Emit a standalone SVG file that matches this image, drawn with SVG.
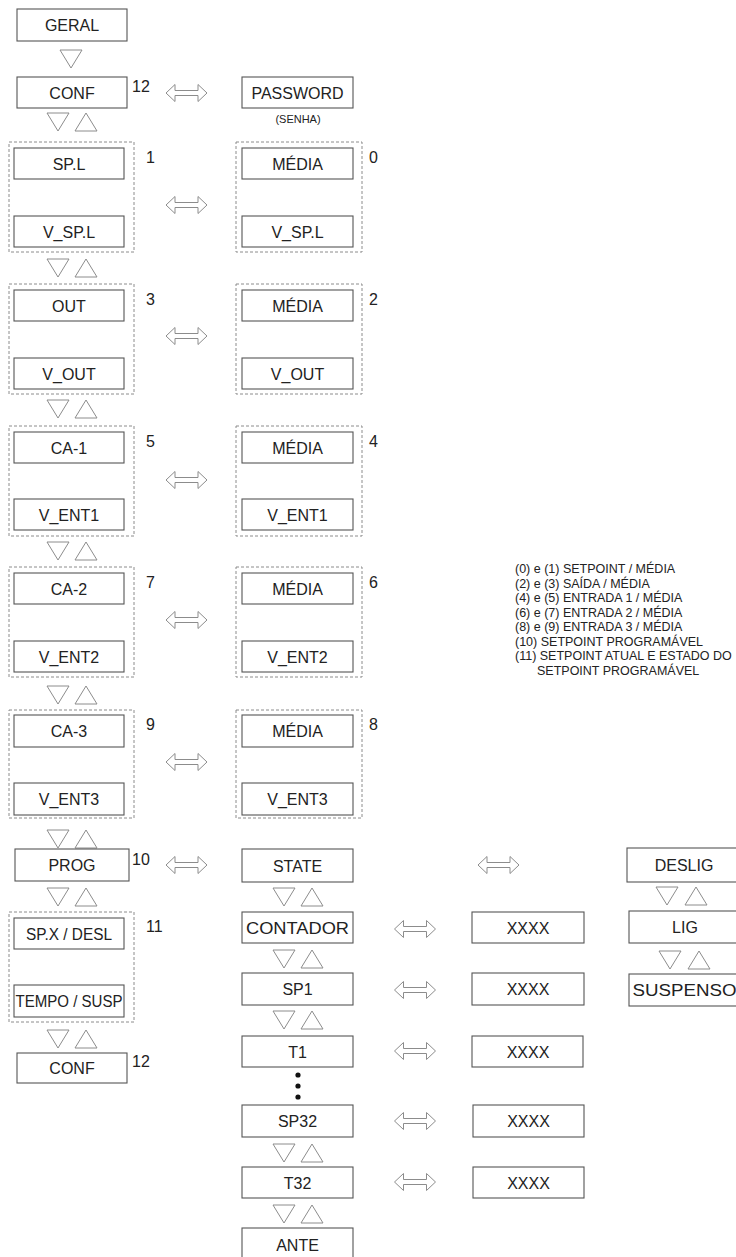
<svg xmlns="http://www.w3.org/2000/svg" xmlns:xlink="http://www.w3.org/1999/xlink" width="736" height="1257" viewBox="0 0 736 1257">
<style>
  .box { fill: #ffffff; stroke: #555555; stroke-width: 1.1; }
  .grp { fill: none; stroke: #8c8c8c; stroke-width: 1; stroke-dasharray: 3 2; }
  .tri { fill: #ffffff; stroke: #8c8c8c; stroke-width: 1; }
  .arr { fill: #ffffff; stroke: #8c8c8c; stroke-width: 1; }
  .lbl { font-family: "Liberation Sans", Arial, sans-serif; font-size: 16px; fill: #222222; text-anchor: middle; }
  .num { font-family: "Liberation Sans", Arial, sans-serif; font-size: 16px; fill: #222222; }
  .small { font-family: "Liberation Sans", Arial, sans-serif; font-size: 11px; fill: #222222; text-anchor: middle; }
  .leg { font-family: "Liberation Sans", Arial, sans-serif; font-size: 12.5px; fill: #222222; }
</style>
<defs>
  <polygon id="tdown" class="tri" points="0,0 22,0 11,18"/>
  <polygon id="tup" class="tri" points="0,18 22,18 11,0"/>
  <path id="darr" class="arr" d="M-20.5,0 L-11.5,-8.5 L-11.5,-2.5 L11.5,-2.5 L11.5,-8.5 L20.5,0 L11.5,8.5 L11.5,2.5 L-11.5,2.5 L-11.5,8.5 Z"/>
</defs>
<rect width="736" height="1257" fill="#ffffff"/>

<g id="connectors">
  <use xlink:href="#tdown" x="60" y="50"/>
  <use xlink:href="#tdown" x="47" y="113"/><use xlink:href="#tup" x="75" y="113"/>
  <use xlink:href="#tdown" x="47" y="259"/><use xlink:href="#tup" x="75" y="259"/>
  <use xlink:href="#tdown" x="47" y="400"/><use xlink:href="#tup" x="75" y="400"/>
  <use xlink:href="#tdown" x="47" y="542"/><use xlink:href="#tup" x="75" y="542"/>
  <use xlink:href="#tdown" x="47" y="686"/><use xlink:href="#tup" x="75" y="686"/>
  <use xlink:href="#tdown" x="47" y="830"/><use xlink:href="#tup" x="75" y="830"/>
  <use xlink:href="#tdown" x="47" y="888"/><use xlink:href="#tup" x="75" y="888"/>
  <use xlink:href="#tdown" x="47" y="1030"/><use xlink:href="#tup" x="75" y="1030"/>

  <use xlink:href="#tdown" x="273" y="888"/><use xlink:href="#tup" x="301" y="888"/>
  <use xlink:href="#tdown" x="273" y="950"/><use xlink:href="#tup" x="301" y="950"/>
  <use xlink:href="#tdown" x="273" y="1011"/><use xlink:href="#tup" x="301" y="1011"/>
  <use xlink:href="#tdown" x="273" y="1144"/><use xlink:href="#tup" x="301" y="1144"/>
  <use xlink:href="#tdown" x="273" y="1205"/><use xlink:href="#tup" x="301" y="1205"/>

  <use xlink:href="#tdown" x="656" y="887"/><use xlink:href="#tup" x="685" y="887"/>
  <use xlink:href="#tdown" x="659" y="951"/><use xlink:href="#tup" x="688" y="951"/>

  <use xlink:href="#darr" x="186.5" y="93"/>
  <use xlink:href="#darr" x="186.5" y="205"/>
  <use xlink:href="#darr" x="186.5" y="336"/>
  <use xlink:href="#darr" x="186.5" y="480"/>
  <use xlink:href="#darr" x="186.5" y="620"/>
  <use xlink:href="#darr" x="186.5" y="762"/>
  <use xlink:href="#darr" x="186.5" y="865"/>
  <use xlink:href="#darr" x="498.5" y="865"/>
  <use xlink:href="#darr" x="415" y="929"/>
  <use xlink:href="#darr" x="415" y="990"/>
  <use xlink:href="#darr" x="415" y="1051"/>
  <use xlink:href="#darr" x="415" y="1121"/>
  <use xlink:href="#darr" x="415" y="1182"/>

  <circle cx="298" cy="1075" r="2.6" fill="#111111"/>
  <circle cx="298" cy="1086" r="2.6" fill="#111111"/>
  <circle cx="298" cy="1097" r="2.6" fill="#111111"/>
</g>

<g id="geral"><rect class="box" x="17" y="9" width="110" height="32"/><text class="lbl" x="72" y="31">GERAL</text></g>
<g id="conf-top"><rect class="box" x="17" y="77" width="110" height="31"/><text class="lbl" x="72" y="98.5">CONF</text><text class="num" x="132" y="92">12</text></g>
<g id="password"><rect class="box" x="242" y="77" width="111" height="31"/><text class="lbl" x="297.5" y="98.5">PASSWORD</text><text class="small" x="298" y="123">(SENHA)</text></g>

<g id="grp1-left"><rect class="grp" x="9" y="142" width="125" height="110"/>
  <rect class="box" x="14" y="148" width="110" height="31"/><text class="lbl" x="69" y="169.5">SP.L</text>
  <rect class="box" x="14" y="216" width="110" height="31"/><text class="lbl" x="69" y="237.5">V_SP.L</text>
  <text class="num" x="146" y="163">1</text></g>
<g id="grp1-right"><rect class="grp" x="236" y="142" width="126" height="110"/>
  <rect class="box" x="242" y="148" width="111" height="31"/><text class="lbl" x="297.5" y="169.5">MÉDIA</text>
  <rect class="box" x="242" y="216" width="111" height="31"/><text class="lbl" x="297.5" y="237.5">V_SP.L</text>
  <text class="num" x="369" y="163">0</text></g>

<g id="grp2-left"><rect class="grp" x="9" y="284" width="125" height="110"/>
  <rect class="box" x="14" y="290" width="110" height="31"/><text class="lbl" x="69" y="311.5">OUT</text>
  <rect class="box" x="14" y="358" width="110" height="31"/><text class="lbl" x="69" y="379.5">V_OUT</text>
  <text class="num" x="146" y="305">3</text></g>
<g id="grp2-right"><rect class="grp" x="236" y="284" width="126" height="110"/>
  <rect class="box" x="242" y="290" width="111" height="31"/><text class="lbl" x="297.5" y="311.5">MÉDIA</text>
  <rect class="box" x="242" y="358" width="111" height="31"/><text class="lbl" x="297.5" y="379.5">V_OUT</text>
  <text class="num" x="369" y="305">2</text></g>

<g id="grp3-left"><rect class="grp" x="9" y="426" width="125" height="110"/>
  <rect class="box" x="14" y="432" width="110" height="31"/><text class="lbl" x="69" y="453.5">CA-1</text>
  <rect class="box" x="14" y="499" width="110" height="31"/><text class="lbl" x="69" y="520.5">V_ENT1</text>
  <text class="num" x="146" y="447">5</text></g>
<g id="grp3-right"><rect class="grp" x="236" y="426" width="126" height="110"/>
  <rect class="box" x="242" y="432" width="111" height="31"/><text class="lbl" x="297.5" y="453.5">MÉDIA</text>
  <rect class="box" x="242" y="499" width="111" height="31"/><text class="lbl" x="297.5" y="520.5">V_ENT1</text>
  <text class="num" x="369" y="447">4</text></g>

<g id="grp4-left"><rect class="grp" x="9" y="567" width="125" height="110"/>
  <rect class="box" x="14" y="573" width="110" height="31"/><text class="lbl" x="69" y="594.5">CA-2</text>
  <rect class="box" x="14" y="641" width="110" height="31"/><text class="lbl" x="69" y="662.5">V_ENT2</text>
  <text class="num" x="146" y="588">7</text></g>
<g id="grp4-right"><rect class="grp" x="236" y="567" width="126" height="110"/>
  <rect class="box" x="242" y="573" width="111" height="31"/><text class="lbl" x="297.5" y="594.5">MÉDIA</text>
  <rect class="box" x="242" y="641" width="111" height="31"/><text class="lbl" x="297.5" y="662.5">V_ENT2</text>
  <text class="num" x="369" y="588">6</text></g>

<g id="grp5-left"><rect class="grp" x="9" y="710" width="125" height="108"/>
  <rect class="box" x="14" y="715" width="110" height="32"/><text class="lbl" x="69" y="737">CA-3</text>
  <rect class="box" x="14" y="783" width="110" height="32"/><text class="lbl" x="69" y="805">V_ENT3</text>
  <text class="num" x="146" y="730">9</text></g>
<g id="grp5-right"><rect class="grp" x="236" y="710" width="126" height="108"/>
  <rect class="box" x="242" y="715" width="111" height="32"/><text class="lbl" x="297.5" y="737">MÉDIA</text>
  <rect class="box" x="242" y="783" width="111" height="32"/><text class="lbl" x="297.5" y="805">V_ENT3</text>
  <text class="num" x="369" y="730">8</text></g>

<g id="prog"><rect class="box" x="15" y="849" width="114" height="32"/><text class="lbl" x="72" y="871">PROG</text><text class="num" x="132" y="865">10</text></g>
<g id="grp11"><rect class="grp" x="9" y="912" width="125" height="110"/>
  <rect class="box" x="14" y="918" width="110" height="31"/><text class="lbl" x="69" y="939.5" textLength="86" lengthAdjust="spacingAndGlyphs">SP.X / DESL</text>
  <rect class="box" x="14" y="985" width="110" height="32"/><text class="lbl" x="69" y="1007" textLength="107" lengthAdjust="spacingAndGlyphs">TEMPO / SUSP</text>
  <text class="num" x="146" y="932">11</text></g>
<g id="conf-bottom"><rect class="box" x="17" y="1053" width="110" height="30"/><text class="lbl" x="72" y="1074">CONF</text><text class="num" x="132" y="1067">12</text></g>

<g id="state"><rect class="box" x="242" y="849" width="111" height="33"/><text class="lbl" x="297.5" y="871.5">STATE</text></g>
<g id="contador"><rect class="box" x="242" y="912" width="111" height="31"/><text class="lbl" x="297.5" y="933.5" textLength="103" lengthAdjust="spacingAndGlyphs">CONTADOR</text></g>
<g id="sp1"><rect class="box" x="242" y="973" width="111" height="32"/><text class="lbl" x="297.5" y="995">SP1</text></g>
<g id="t1"><rect class="box" x="242" y="1036" width="111" height="31"/><text class="lbl" x="297.5" y="1057.5">T1</text></g>
<g id="sp32"><rect class="box" x="242" y="1105" width="111" height="32"/><text class="lbl" x="297.5" y="1127">SP32</text></g>
<g id="t32"><rect class="box" x="242" y="1167" width="111" height="31"/><text class="lbl" x="297.5" y="1188.5">T32</text></g>
<g id="ante"><rect class="box" x="242" y="1228" width="111" height="40"/><text class="lbl" x="297.5" y="1251">ANTE</text></g>

<g id="xxxx-contador"><rect class="box" x="472" y="912" width="112" height="31"/><text class="lbl" x="528" y="933.5">XXXX</text></g>
<g id="xxxx-sp1"><rect class="box" x="472" y="973" width="112" height="32"/><text class="lbl" x="528" y="995">XXXX</text></g>
<g id="xxxx-t1"><rect class="box" x="472" y="1036" width="111" height="31"/><text class="lbl" x="528" y="1057.5">XXXX</text></g>
<g id="xxxx-sp32"><rect class="box" x="473" y="1105" width="111" height="32"/><text class="lbl" x="528.5" y="1127">XXXX</text></g>
<g id="xxxx-t32"><rect class="box" x="473" y="1167" width="111" height="31"/><text class="lbl" x="528.5" y="1188.5">XXXX</text></g>

<g id="deslig"><rect class="box" x="627" y="848" width="113" height="34"/><text class="lbl" x="684" y="871">DESLIG</text></g>
<g id="lig"><rect class="box" x="629" y="911" width="111" height="32"/><text class="lbl" x="685" y="933">LIG</text></g>
<g id="suspenso"><rect class="box" x="629" y="974" width="111" height="32"/><text class="lbl" x="684.5" y="996" textLength="104" lengthAdjust="spacingAndGlyphs">SUSPENSO</text></g>

<g id="legend">
  <text class="leg" x="515" y="573">(0) e (1) SETPOINT / MÉDIA</text>
  <text class="leg" x="515" y="587.5">(2) e (3) SAÍDA / MÉDIA</text>
  <text class="leg" x="515" y="602">(4) e (5) ENTRADA 1 / MÉDIA</text>
  <text class="leg" x="515" y="616.5">(6) e (7) ENTRADA 2 / MÉDIA</text>
  <text class="leg" x="515" y="631">(8) e (9) ENTRADA 3 / MÉDIA</text>
  <text class="leg" x="515" y="645.5">(10) SETPOINT PROGRAMÁVEL</text>
  <text class="leg" x="515" y="660">(11) SETPOINT ATUAL E ESTADO DO</text>
  <text class="leg" x="537" y="674.5">SETPOINT PROGRAMÁVEL</text>
</g>
</svg>
